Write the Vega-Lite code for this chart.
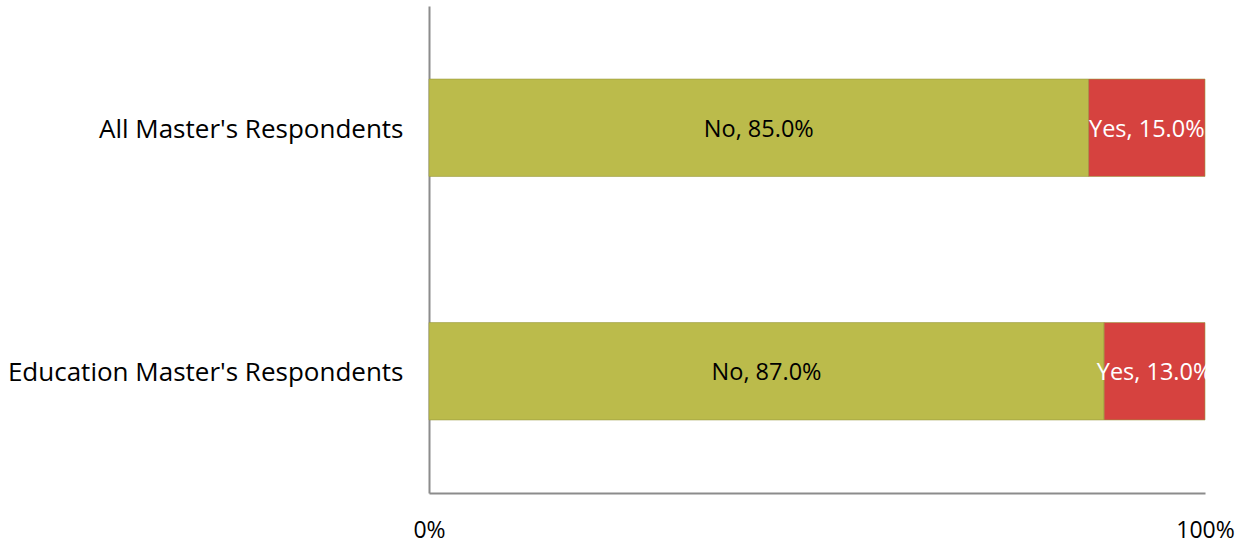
{
  "$schema": "https://vega.github.io/schema/vega-lite/v6.json",
  "width": 776,
  "height": 487,
  "autosize": "none",
  "padding": {"left": 429, "top": 6, "right": 39, "bottom": 54},
  "background": "white",
  "config": {"view": {"stroke": null}, "font": "Open Sans"},
  "data": {
    "values": [
      {"group": "All Master's Respondents", "answer": "No", "value": 0.85, "order": 1},
      {"group": "All Master's Respondents", "answer": "Yes", "value": 0.15, "order": 2},
      {"group": "Education Master's Respondents", "answer": "No", "value": 0.87, "order": 1},
      {"group": "Education Master's Respondents", "answer": "Yes", "value": 0.13, "order": 2}
    ]
  },
  "transform": [
    {"stack": "value", "groupby": ["group"], "sort": [{"field": "order"}], "as": ["v0", "v1"]},
    {"calculate": "(datum.v0 + datum.v1) / 2", "as": "mid"},
    {"calculate": "datum.answer + ', ' + format(datum.value, '.1%')", "as": "label"}
  ],
  "encoding": {
    "y": {
      "field": "group",
      "type": "nominal",
      "sort": ["All Master's Respondents", "Education Master's Respondents"],
      "scale": {"paddingInner": 0, "paddingOuter": 0},
      "axis": {
        "title": null,
        "ticks": false,
        "labelFontSize": 26,
        "labelColor": "#000000",
        "labelPadding": 26,
        "labelLimit": 430,
        "labelOffset": 2,
        "domainColor": "#8c8c8c",
        "domainWidth": 2,
        "grid": false
      }
    }
  },
  "layer": [
    {
      "mark": {"type": "bar", "height": {"band": 0.4}, "stroke": "#9a9a40", "strokeWidth": 0.6},
      "encoding": {
        "x": {
          "field": "v0",
          "type": "quantitative",
          "scale": {"domain": [0, 1]},
          "axis": {
            "title": null,
            "values": [0, 1],
            "format": "%",
            "ticks": false,
            "grid": false,
            "labelFontSize": 23,
            "labelColor": "#000000",
            "labelPadding": 26,
            "labelFlush": false,
            "domainColor": "#8c8c8c",
            "domainWidth": 2
          }
        },
        "x2": {"field": "v1"},
        "color": {
          "field": "answer",
          "type": "nominal",
          "scale": {"domain": ["No", "Yes"], "range": ["#bbbb4b", "#d6423f"]},
          "legend": null
        }
      }
    },
    {
      "mark": {"type": "text", "fontSize": 23.5, "align": "center", "baseline": "middle", "dy": 2},
      "encoding": {
        "x": {"field": "mid", "type": "quantitative"},
        "text": {"field": "label"},
        "color": {
          "field": "answer",
          "type": "nominal",
          "scale": {"domain": ["No", "Yes"], "range": ["#000000", "#ffffff"]},
          "legend": null
        }
      }
    }
  ],
  "resolve": {"scale": {"color": "independent"}}
}
